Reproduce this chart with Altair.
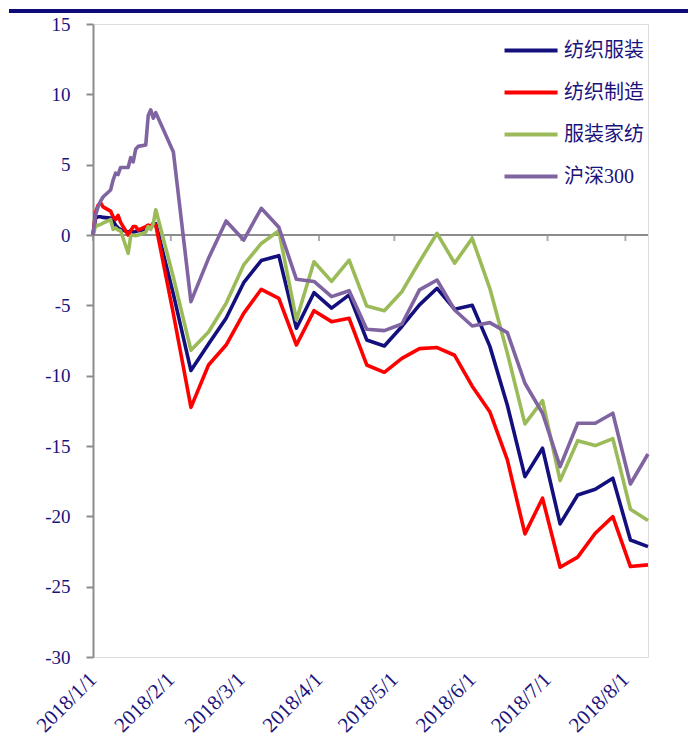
import altair as alt
import pandas as pd

# ---------------- data ----------------
dates = [
    "2018-01-01", "2018-01-02", "2018-01-03", "2018-01-04", "2018-01-05",
    "2018-01-08", "2018-01-09", "2018-01-10", "2018-01-11", "2018-01-12",
    "2018-01-15", "2018-01-16", "2018-01-17", "2018-01-18", "2018-01-19",
    "2018-01-22", "2018-01-23", "2018-01-24", "2018-01-25", "2018-01-26",
    "2018-02-02", "2018-02-09", "2018-02-16", "2018-02-23",
    "2018-03-02", "2018-03-09", "2018-03-16", "2018-03-23", "2018-03-30",
    "2018-04-06", "2018-04-13", "2018-04-20", "2018-04-27",
    "2018-05-04", "2018-05-11", "2018-05-18", "2018-05-25",
    "2018-06-01", "2018-06-08", "2018-06-15", "2018-06-22", "2018-06-29",
    "2018-07-06", "2018-07-13", "2018-07-20", "2018-07-27",
    "2018-08-03", "2018-08-10",
]

textile_apparel = [  # 纺织服装
    0, 1.2, 1.3, 1.3, 1.25, 1.2, 1.0, 0.7, 0.5, 0.4,
    0.2, 0.3, 0.2, 0.25, 0.3, 0.4, 0.5, 0.6, 0.7, 0.8,
    -4.2, -9.64, -7.75, -5.92, -3.39, -1.82, -1.47, -6.63, -4.1,
    -5.2, -4.26, -7.46, -7.89, -6.5, -4.97, -3.79, -5.28,
    -5.0, -7.9, -12.1, -17.18, -15.16, -20.54, -18.48, -18.08, -17.29,
    -21.68, -22.15,
]

textile_mfg = [  # 纺织制造
    0, 1.6, 2.1, 2.3, 2.0, 1.7, 1.3, 1.1, 1.4, 0.9,
    0.0, 0.3, 0.6, 0.6, 0.35, 0.6, 0.7, 0.6, 0.85, 0.7,
    -5.6, -12.25, -9.24, -7.82, -5.57, -3.86, -4.5, -7.82, -5.38,
    -6.16, -5.92, -9.24, -9.76, -8.77, -8.08, -8.0, -8.55,
    -10.75, -12.56, -15.99, -21.25, -18.71, -23.62, -22.9, -21.2, -20.02,
    -23.57, -23.45,
]

apparel_home = [  # 服装家纺
    0, 0.6, 0.7, 0.75, 0.85, 1.1, 0.4, 0.5, 0.35, 0.3,
    -1.3, -0.1, 0.0, -0.05, 0.0, 0.2, 0.6, 0.4, 0.8, 1.8,
    -3.0, -8.2, -6.9, -4.86, -2.13, -0.6, 0.3, -6.04, -1.9,
    -3.3, -1.78, -5.05, -5.38, -4.03, -1.9, 0.12, -2.0,
    -0.24, -3.79, -8.4, -13.43, -11.78, -17.46, -14.62, -14.97, -14.48,
    -19.5, -20.3,
]

hs300 = [  # 沪深300
    0, 1.4, 2.0, 2.4, 2.7, 3.2, 3.9, 4.4, 4.3, 4.8,
    4.8, 5.5, 5.2, 6.1, 6.3, 6.4, 8.5, 8.9, 8.3, 8.7,
    5.9, -4.74, -1.66, 1.0, -0.36, 1.9, 0.55, -3.15, -3.3,
    -4.38, -3.96, -6.7, -6.8, -6.33, -3.9, -3.2, -5.33,
    -6.47, -6.23, -6.94, -10.54, -12.67, -16.47, -13.38, -13.38, -12.67,
    -17.7, -15.57,
]

series_names = ["纺织服装", "纺织制造", "服装家纺", "沪深300"]
series_colors = ["#13107E", "#FF0000", "#9BBB59", "#8064A2"]

month_ticks = ["2018-01-01", "2018-02-01", "2018-03-01", "2018-04-01",
               "2018-05-01", "2018-06-01", "2018-07-01", "2018-08-01"]
y_ticks = [-30, -25, -20, -15, -10, -5, 0, 5, 10, 15]
zero_line = [0]

# ---------------- build tables ----------------
rows = []
for name, vals in zip(series_names, [textile_apparel, textile_mfg, apparel_home, hs300]):
    for d, v in zip(dates, vals):
        rows.append({"date": d, "value": v, "series": name})
df = pd.DataFrame(rows)
ticks_df = pd.DataFrame({"date": month_ticks, "zero": [0] * len(month_ticks)})
zero_df = pd.DataFrame({"zero": zero_line})

W, H = 555, 633
TXT = "#1A137C"
GRAY = "#8C8C8C"


def dt(s):
    y, m, d = [int(p) for p in s.split("-")]
    return alt.DateTime(year=y, month=m, date=d, utc=True)


x_scale = alt.Scale(type="utc", domain=[dt(dates[0]), dt(dates[-1])], nice=False)
y_scale = alt.Scale(domain=[-30, 15], nice=False, zero=False)

lines = alt.Chart(df).mark_line(strokeWidth=3.6, strokeJoin="round").encode(
    x=alt.X("date:T", scale=x_scale,
            axis=alt.Axis(values=[dt(s) for s in month_ticks],
                          labelExpr="utcFormat(datum.value, '%Y/%-m/%-d')",
                          labelAngle=-45, labelAlign="right", labelBaseline="middle",
                          labelPadding=19, labelFont="Liberation Serif",
                          labelFontSize=21, labelColor=TXT,
                          domain=False, ticks=False, tickSize=0, grid=False,
                          labelOverlap=False, title=None)),
    y=alt.Y("value:Q", scale=y_scale,
            axis=alt.Axis(values=y_ticks, labelExpr="'' + datum.value",
                          labelFont="Liberation Serif", labelFontSize=19,
                          labelColor=TXT, labelPadding=16,
                          domainColor=GRAY, domainWidth=2,
                          tickColor=GRAY, tickWidth=2, tickSize=7,
                          grid=False, title=None)),
    color=alt.Color("series:N",
                    scale=alt.Scale(domain=series_names, range=series_colors),
                    legend=alt.Legend(orient="none", legendX=428, legendY=14,
                                      title=None, padding=0,
                                      symbolType="M-2.76,0L2.29,0", symbolSize=441,
                                      symbolStrokeWidth=4,
                                      labelFont="Liberation Serif, Noto Sans CJK SC",
                                      labelFontSize=20, labelColor=TXT,
                                      labelOffset=18, rowPadding=19)),
    order=alt.Order("date:T"),
)

zero_rule = alt.Chart(zero_df).mark_rule(color=GRAY, strokeWidth=2).encode(
    y=alt.Y("zero:Q", scale=y_scale),
    x=alt.value(0), x2=alt.value(W),
)

month_tick_marks = alt.Chart(ticks_df).mark_tick(
    orient="vertical", size=6, thickness=2, yOffset=3, color=GRAY
).encode(
    x=alt.X("date:T", scale=x_scale),
    y=alt.Y("zero:Q", scale=y_scale),
)

top_bar = alt.Chart(zero_df).mark_rule(color="#0E0A78", strokeWidth=4).encode(
    x=alt.value(-84), x2=alt.value(W + 45), y=alt.value(-13),
)

chart = alt.layer(zero_rule, month_tick_marks, lines, top_bar).properties(
    width=W, height=H,
    autosize="none",
    padding={"left": 85, "top": 16, "right": 40, "bottom": 88},
).configure_view(stroke=None).configure(background="white")

chart.save("out.html", embed_options={"renderer": "svg", "actions": False})
